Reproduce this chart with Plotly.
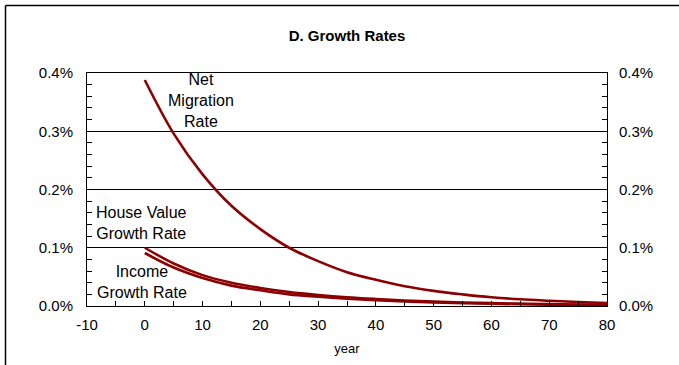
import plotly.graph_objects as go

years = [0, 5, 10, 15, 20, 25, 30, 35, 40, 45, 50, 55, 60, 65, 70, 75, 80]
net_migration = [0.388, 0.296, 0.226, 0.172, 0.132, 0.100, 0.077, 0.058, 0.045,
                 0.034, 0.026, 0.020, 0.015, 0.0115, 0.009, 0.0068, 0.0052]
house_value = [0.100, 0.073, 0.053, 0.040, 0.031, 0.024, 0.019, 0.015, 0.012,
               0.0095, 0.0076, 0.0061, 0.0049, 0.0040, 0.0032, 0.0026, 0.0021]
income = [0.091, 0.066, 0.048, 0.035, 0.027, 0.020, 0.016, 0.0125, 0.0098,
          0.0077, 0.0061, 0.0048, 0.0038, 0.0030, 0.0024, 0.0019, 0.0015]
y_ticks = [0.0, 0.1, 0.2, 0.3, 0.4]
y_tick_labels = ["0.0%", "0.1%", "0.2%", "0.3%", "0.4%"]
x_ticks = [-10, 0, 10, 20, 30, 40, 50, 60, 70, 80]
x_tick_labels = ["-10", "0", "10", "20", "30", "40", "50", "60", "70", "80"]

FONT = "Liberation Sans, Arial, sans-serif"
RED = "#8B0000"

fig = go.Figure()
for series in (net_migration, house_value, income):
    fig.add_trace(go.Scatter(x=years, y=series, mode="lines", line=dict(color=RED, width=2.6, shape="spline"),
                             showlegend=False, hoverinfo="skip"))
fig.add_trace(go.Scatter(x=[], y=[], yaxis="y2", showlegend=False, hoverinfo="skip"))

yaxis_common = dict(range=[0, 0.4], tickvals=y_ticks, ticktext=y_tick_labels,
                    ticks="inside", ticklen=5, tickcolor="black", tickwidth=1,
                    minor=dict(dtick=0.02, ticks="inside", ticklen=5, tickcolor="black", tickwidth=1),
                    showline=True, linecolor="black", linewidth=1,
                    tickfont=dict(family=FONT, size=15, color="black"),
                    zeroline=False, fixedrange=True)

x_left = (5.5 - 87) / 520
y_top = (306 - 5.5) / 233

fig.update_layout(
    width=679, height=365,
    margin=dict(l=87, r=72, t=73, b=59),
    paper_bgcolor="white", plot_bgcolor="white",
    font=dict(family=FONT, color="black"),
    title=dict(text="<b>D. Growth Rates</b>", x=0.511, xanchor="center", y=1 - 36 / 365, yanchor="middle",
               font=dict(family=FONT, size=15, color="black")),
    xaxis=dict(range=[-10, 80], tickvals=x_ticks, ticktext=x_tick_labels, ticks="inside", ticklen=5,
               tickcolor="black", ticklabelstandoff=5,
               minor=dict(dtick=5, ticks="inside", ticklen=5, tickcolor="black"),
               showline=True, mirror=True, linecolor="black", linewidth=1, showgrid=False, zeroline=False,
               tickfont=dict(family=FONT, size=15, color="black"),
               title=dict(text="year", standoff=11, font=dict(family=FONT, size=13, color="black"))),
    yaxis=dict(**yaxis_common, showgrid=True, gridcolor="black", gridwidth=1, mirror=True, side="left",
               ticklabelstandoff=10),
    yaxis2=dict(**yaxis_common, overlaying="y", side="right", showgrid=False, matches="y",
                ticklabelstandoff=8),
    shapes=[
        dict(type="line", xref="paper", yref="paper", x0=x_left, x1=x_left, y0=-0.4, y1=y_top,
             line=dict(color="black", width=1.5), layer="below"),
        dict(type="line", xref="paper", yref="paper", x0=x_left, x1=1.2, y0=y_top, y1=y_top,
             line=dict(color="black", width=1.5), layer="below"),
    ],
    annotations=[
        dict(text="Net<br>Migration<br>Rate", x=9.66, y=0.3534, xref="x", yref="y", showarrow=False,
             align="center", font=dict(family=FONT, size=16, color="black")),
        dict(text="House Value<br>Growth Rate", x=-0.5, y=0.143, xref="x", yref="y", showarrow=False,
             align="center", font=dict(family=FONT, size=16, color="black")),
        dict(text="Income<br>Growth Rate", x=-0.5, y=0.0405, xref="x", yref="y", showarrow=False,
             align="center", font=dict(family=FONT, size=16, color="black")),
    ],
)

fig.write_html("out.html", config={"displayModeBar": False},
               post_script="document.body.style.margin='0';document.body.style.overflow='hidden';"
                           "document.documentElement.style.overflow='hidden';")
